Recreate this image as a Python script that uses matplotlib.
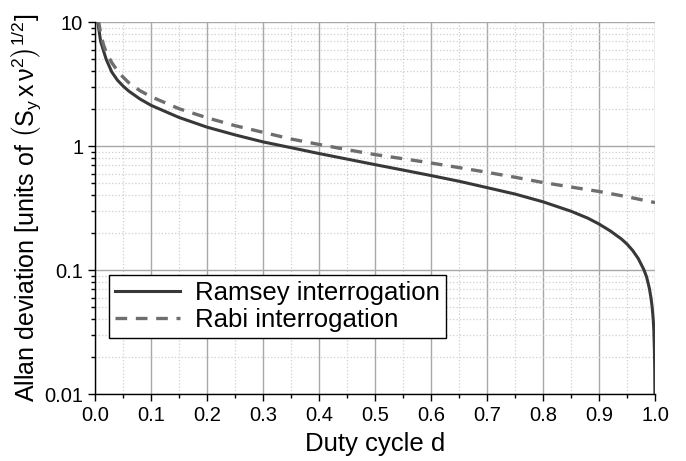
import numpy as np
from matplotlib import pyplot as plt
from matplotlib.ticker import FixedLocator, FuncFormatter, LogLocator, NullFormatter

plt.rcParams['font.family'] = ['Liberation Sans', 'DejaVu Sans']
plt.rcParams['mathtext.fontset'] = 'custom'
plt.rcParams['mathtext.rm'] = 'Liberation Sans'
plt.rcParams['mathtext.it'] = 'Liberation Sans'

# Ramsey interrogation
d_ramsey = [0.005, 0.01, 0.015, 0.02, 0.03, 0.04, 0.05, 0.06, 0.08, 0.10,
            0.15, 0.20, 0.25, 0.30, 0.35, 0.40, 0.45, 0.50, 0.55, 0.60,
            0.65, 0.70, 0.75, 0.80, 0.85, 0.88, 0.90, 0.92, 0.94, 0.95,
            0.96, 0.97, 0.98, 0.985, 0.99, 0.993, 0.995, 0.997, 0.998,
            0.999, 0.9995, 0.9998, 1.0]
ramsey = [10.0, 7.0, 5.9, 5.0, 3.95, 3.4, 3.05, 2.78, 2.4, 2.13,
          1.7, 1.42, 1.23, 1.08, 0.97, 0.87, 0.785, 0.708, 0.64, 0.578,
          0.52, 0.462, 0.41, 0.355, 0.298, 0.262, 0.235, 0.207, 0.178, 0.162,
          0.144, 0.124, 0.101, 0.088, 0.071, 0.059, 0.05, 0.039, 0.032,
          0.022, 0.016, 0.01, 0.001]

# Rabi interrogation
d_rabi = [0.006, 0.01, 0.015, 0.02, 0.03, 0.04, 0.05, 0.06, 0.08, 0.10,
          0.15, 0.20, 0.25, 0.30, 0.35, 0.40, 0.45, 0.50, 0.55, 0.60,
          0.65, 0.70, 0.75, 0.80, 0.85, 0.90, 0.95, 1.00]
rabi = [10.4, 8.1, 6.6, 5.7, 4.7, 4.05, 3.6, 3.25, 2.8, 2.5,
        2.0, 1.69, 1.46, 1.29, 1.14, 1.03, 0.935, 0.853, 0.79, 0.73,
        0.67, 0.614, 0.56, 0.508, 0.467, 0.43, 0.39, 0.35]

x_ticks = [0.0, 0.1, 0.2, 0.3, 0.4, 0.5, 0.6, 0.7, 0.8, 0.9, 1.0]
y_ticks = [0.01, 0.1, 1, 10]
y_labels = ['0.01', '0.1', '1', '10']

fig = plt.figure(figsize=(6.86, 4.61), dpi=100)
ax = fig.add_axes([0.1385, 0.1453, 0.8163, 0.8069])

# Grid
ax.set_yscale('log')
ax.set_xlim(0, 1)
ax.set_ylim(0.01, 10)
ax.xaxis.set_major_locator(FixedLocator(x_ticks))
ax.xaxis.set_minor_locator(FixedLocator(np.arange(0.05, 1.0, 0.1)))
ax.yaxis.set_major_locator(FixedLocator(y_ticks))
ax.yaxis.set_minor_locator(LogLocator(base=10, subs=np.arange(2, 10), numticks=20))
ax.yaxis.set_minor_formatter(NullFormatter())
ax.xaxis.set_major_formatter(FuncFormatter(lambda v, p: '%.1f' % v))
ax.yaxis.set_major_formatter(FuncFormatter(lambda v, p: y_labels[y_ticks.index(v)] if v in y_ticks else ''))
ax.grid(True, which='major', color='#a8a8a8', linewidth=1.0, linestyle='-')
ax.grid(True, which='minor', color='#cfcfcf', linewidth=0.9, linestyle=':')
ax.set_axisbelow(True)

# Curves
ax.plot(d_ramsey, ramsey, '-', color='#383838', linewidth=2.2, label='Ramsey interrogation')
ax.plot(d_rabi, rabi, '--', color='#6e6e6e', linewidth=2.4, dashes=(3.5, 2.6), label='Rabi interrogation')

# Axes style
for s in ['top', 'right']:
    ax.spines[s].set_visible(False)
for s in ['left', 'bottom']:
    ax.spines[s].set_color('black')
    ax.spines[s].set_linewidth(1.0)
ax.tick_params(which='major', direction='out', length=5, width=1, labelsize=14.5, colors='black')
ax.tick_params(which='minor', direction='out', length=3, width=1)

ax.set_xlabel('Duty cycle d', fontsize=18.5, labelpad=5)
ax.set_ylabel(r'Allan deviation [units of $\left(\mathrm{S_y\,x\,\nu^2}\right)^{1/2}$]', fontsize=18, labelpad=0)

leg = ax.legend(loc='lower left', bbox_to_anchor=(0.025, 0.1505), borderaxespad=0,
                fontsize=18.5, frameon=True, fancybox=False, handlelength=2.5,
                handletextpad=0.6, borderpad=0.25, labelspacing=0.1)
leg.get_frame().set_edgecolor('black')
leg.get_frame().set_linewidth(1.0)
leg.get_frame().set_alpha(1)

plt.savefig('out.png', dpi=100)
